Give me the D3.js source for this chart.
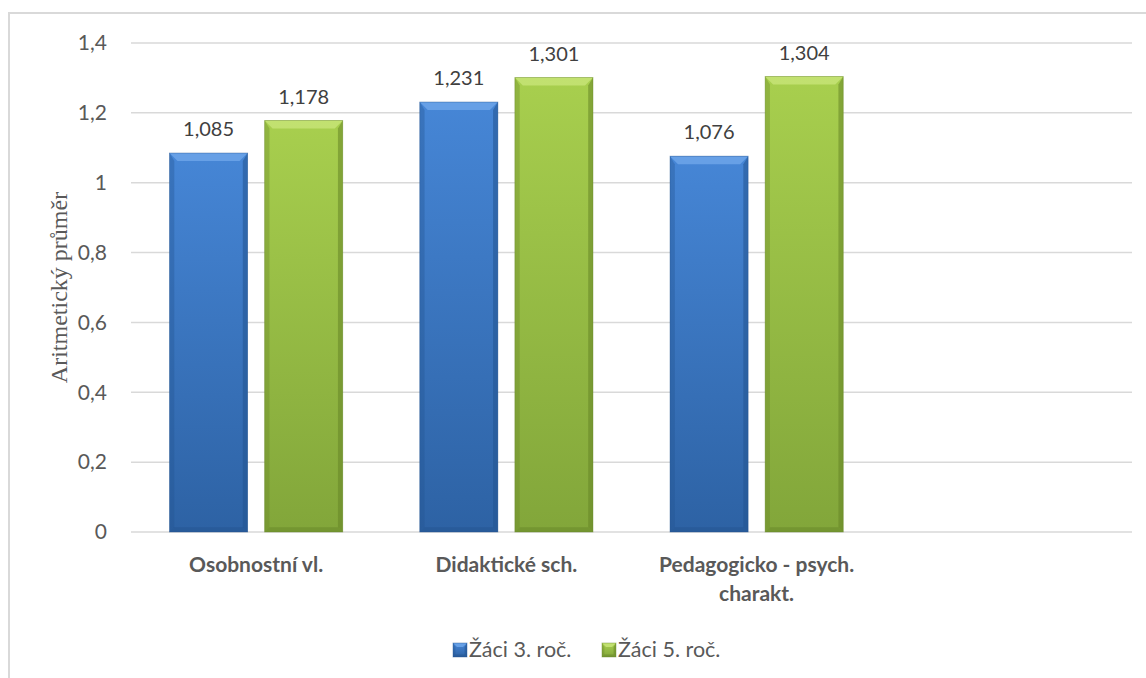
<!DOCTYPE html>
<html>
<head>
<meta charset="utf-8">
<script src="https://cdn.jsdelivr.net/npm/d3@7"></script>
<style>
  html, body { margin: 0; padding: 0; background: #fff; }
  svg { display: block; }
</style>
</head>
<body>
<svg id="chart" width="1146" height="678"></svg>
<script>
// Category labels (the last slot is intentionally empty)
const categories = ["Osobnostní vl.", "Didaktické sch.", "Pedagogicko - psych. charakt.", ""];
// Series
const seriesNames = ["Žáci 3. roč.", "Žáci 5. roč."];
const valuesGrade3 = [1.085, 1.231, 1.076, null];
const valuesGrade5 = [1.178, 1.301, 1.304, null];
// Y axis ticks
const yTicks = [0, 0.2, 0.4, 0.6, 0.8, 1, 1.2, 1.4];
const yTitle = "Aritmetický průměr";

const svg = d3.select("#chart");
const W = 1146, H = 678;
const plot = { left: 131, right: 1132, top: 43, bottom: 532 };
const fmtTick = d => String(d).replace(".", ",");
const fmtVal = d => d3.format(".3f")(d).replace(".", ",");
const textColor = "#595959";
const font = "Lato, 'Open Sans', sans-serif";

// chart frame (left and top edges)
svg.append("path")
  .attr("d", `M9,${H} V13 H${W}`)
  .attr("fill", "none").attr("stroke", "#d9d9d9").attr("stroke-width", 2);

const x0 = d3.scaleBand().domain(categories.map((c, i) => i)).range([plot.left, plot.right]).padding(0);
const x1 = d3.scaleBand().domain(seriesNames).range([0, x0.bandwidth()])
  .paddingInner(0.179).paddingOuter(0.405);
const y = d3.scaleLinear().domain([0, 1.4]).range([plot.bottom, plot.top]);

// gradients
const defs = svg.append("defs");
const palettes = [
  { id: "blue", top: "#4686d6", bottom: "#2d62a4", bevel: "#6aa3e8", edge: "#23548f" },
  { id: "green", top: "#a8cf4e", bottom: "#82a63a", bevel: "#c4e274", edge: "#668527" }
];
palettes.forEach(p => {
  const g = defs.append("linearGradient").attr("id", "grad-" + p.id)
    .attr("x1", 0).attr("y1", 0).attr("x2", 0).attr("y2", 1);
  g.append("stop").attr("offset", "0%").attr("stop-color", p.top);
  g.append("stop").attr("offset", "100%").attr("stop-color", p.bottom);
});

// grid
svg.append("g").selectAll("line").data(yTicks).join("line")
  .attr("x1", plot.left).attr("x2", plot.right)
  .attr("y1", d => y(d)).attr("y2", d => y(d))
  .attr("stroke", "#d9d9d9").attr("stroke-width", 1.5);

// y axis labels
const yAxis = d3.axisLeft(y).tickValues(yTicks).tickFormat(fmtTick).tickSize(0).tickPadding(0);
const yg = svg.append("g").attr("transform", `translate(${plot.left - 24},0)`).call(yAxis);
yg.select(".domain").remove();
yg.selectAll("text").attr("fill", textColor).style("font-family", font).style("font-size", "21px");

// y title
svg.append("text")
  .attr("transform", `translate(${67},${(plot.top + plot.bottom) / 2}) rotate(-90)`)
  .attr("text-anchor", "middle")
  .attr("fill", textColor)
  .style("font-family", "'Liberation Serif', 'DejaVu Serif', serif")
  .style("font-size", "24px")
  .text(yTitle);

// bevelled bar drawing
function bevelBar(g, x, yTop, w, h, p, b) {
  g.append("rect").attr("x", x).attr("y", yTop).attr("width", w).attr("height", h)
    .attr("fill", `url(#grad-${p.id})`);
  // top bevel
  g.append("path").attr("d", `M${x},${yTop} H${x + w} L${x + w - b},${yTop + b} H${x + b} Z`)
    .attr("fill", p.bevel).attr("opacity", 0.9);
  // side edges
  g.append("path").attr("d", `M${x},${yTop} L${x + b * 0.6},${yTop + b} V${yTop + h - b * 0.6} L${x},${yTop + h} Z`)
    .attr("fill", p.edge).attr("opacity", 0.35);
  g.append("path").attr("d", `M${x + w},${yTop} L${x + w - b * 0.6},${yTop + b} V${yTop + h - b * 0.6} L${x + w},${yTop + h} Z`)
    .attr("fill", p.edge).attr("opacity", 0.55);
  // bottom edge
  g.append("path").attr("d", `M${x},${yTop + h} L${x + b * 0.6},${yTop + h - b * 0.6} H${x + w - b * 0.6} L${x + w},${yTop + h} Z`)
    .attr("fill", p.edge).attr("opacity", 0.5);
  g.append("rect").attr("x", x).attr("y", yTop).attr("width", w).attr("height", h)
    .attr("fill", "none").attr("stroke", p.edge).attr("stroke-opacity", 0.5).attr("stroke-width", 0.8);
}

const series = [valuesGrade3, valuesGrade5];
const barsG = svg.append("g");
categories.forEach((c, i) => {
  series.forEach((vals, s) => {
    const v = vals[i];
    if (v == null) return;
    const bx = x0(i) + x1(seriesNames[s]);
    const bw = x1.bandwidth();
    const by = y(v);
    bevelBar(barsG.append("g"), bx, by, bw, y(0) - by, palettes[s], 8);
    svg.append("text")
      .attr("x", bx + bw / 2).attr("y", by - 17)
      .attr("text-anchor", "middle")
      .attr("fill", "#404040")
      .style("font-family", font).style("font-size", "20px")
      .text(fmtVal(v));
  });
});

// category labels
const catLines = {
  "Pedagogicko - psych. charakt.": ["Pedagogicko - psych.", "charakt."]
};
categories.forEach((c, i) => {
  const lines = catLines[c] || [c];
  const t = svg.append("text")
    .attr("x", x0(i) + x0.bandwidth() / 2)
    .attr("y", 572)
    .attr("text-anchor", "middle")
    .attr("fill", textColor)
    .style("font-family", font).style("font-size", "21px").style("font-weight", "bold");
  lines.forEach((l, k) => {
    t.append("tspan").attr("x", x0(i) + x0.bandwidth() / 2).attr("dy", k === 0 ? 0 : 29).text(l);
  });
});

// legend
const legendItems = [
  { name: seriesNames[0], x: 453, p: palettes[0] },
  { name: seriesNames[1], x: 602, p: palettes[1] }
];
legendItems.forEach(it => {
  const g = svg.append("g");
  bevelBar(g, it.x, 643, 14, 14, it.p, 4);
  svg.append("text")
    .attr("x", it.x + 16).attr("y", 657)
    .attr("fill", textColor)
    .style("font-family", font).style("font-size", "21.5px")
    .text(it.name);
});
</script>
</body>
</html>
